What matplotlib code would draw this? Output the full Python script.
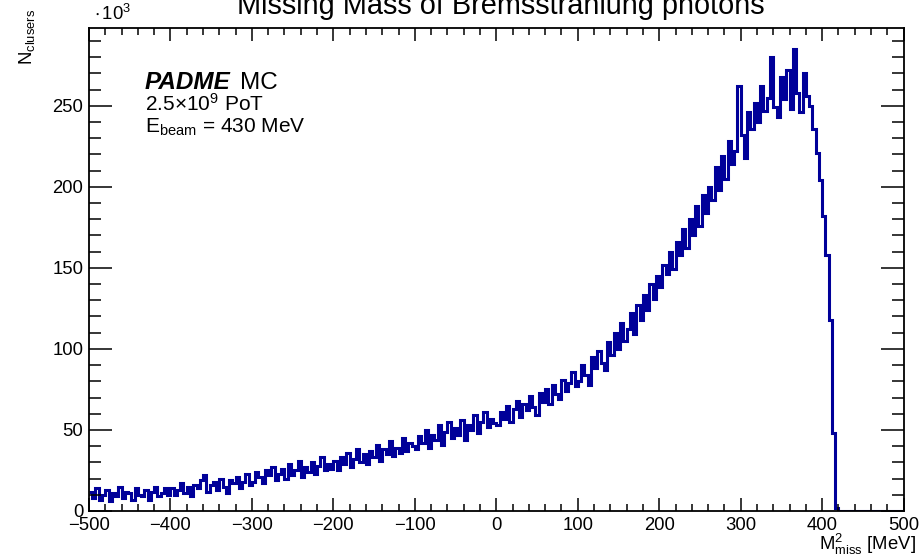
import numpy as np
import matplotlib.pyplot as plt

# missing mass histogram, 4 MeV bins from -500 to 500, counts in units of 10^3
bin_lo = -500
bin_hi = 500

counts_k = [
    # -500 .. -404
    12, 8, 14, 7, 10, 13, 6, 11, 9, 15, 8, 12, 11, 7, 14, 10, 9, 13, 7, 12,
    15, 9, 11, 14, 10,
    # -400 .. -304
    14, 10, 13, 17, 11, 15, 9, 16, 14, 19, 22, 12, 16, 18, 13, 20, 15, 11, 19, 17,
    21, 14, 18, 23, 16,
    # -300 .. -204
    18, 24, 21, 17, 25, 22, 27, 19, 23, 26, 20, 29, 22, 25, 31, 21, 27, 24, 30, 23,
    28, 33, 25, 29, 26,
    # -200 .. -104
    31, 25, 33, 29, 36, 27, 32, 38, 30, 35, 29, 37, 33, 41, 31, 38, 35, 43, 34, 39,
    36, 45, 37, 42, 40,
    # -100 .. -4
    38, 46, 42, 50, 39, 47, 44, 53, 41, 49, 55, 45, 51, 47, 56, 44, 53, 50, 59, 48,
    55, 61, 52, 57, 54,
    # 0 .. 96
    53, 61, 57, 65, 55, 63, 68, 58, 66, 62, 71, 64, 59, 73, 67, 75, 66, 78, 72, 69,
    81, 74, 79, 86, 77,
    # 100 .. 196
    80, 90, 84, 78, 95, 88, 99, 91, 87, 104, 96, 110, 100, 116, 105, 112, 122, 109,
    127, 118, 133, 124, 140, 131, 145,
    # 200 .. 296
    138, 152, 146, 160, 149, 166, 158, 174, 162, 180, 170, 188, 176, 195, 184, 200,
    192, 212, 198, 219, 205, 228, 214, 222, 262,
    # 300 .. 396
    232, 218, 246, 236, 252, 240, 262, 247, 255, 280, 249, 243, 268, 254, 272, 248,
    285, 258, 246, 270, 256, 250, 236, 221, 204,
    # 400 .. 496
    182, 158, 118, 48, 2, 0, 0, 0, 0, 0, 0, 0, 0, 0, 0, 0, 0, 0, 0, 0,
    0, 0, 0, 0, 0,
]

title = "Missing Mass of Bremsstrahlung photons"
info_lines = [r"$\mathregular{2.5{\times}10^9}$ PoT",
              r"$\mathregular{E_{beam}}$ = 430 MeV"]

plt.rcParams['font.family'] = ['Liberation Sans', 'DejaVu Sans']
plt.rcParams['mathtext.fontset'] = 'custom'
plt.rcParams['mathtext.rm'] = 'Liberation Sans'
plt.rcParams['mathtext.it'] = 'Liberation Sans:italic'
plt.rcParams['mathtext.bf'] = 'Liberation Sans:bold'

edges = np.linspace(bin_lo, bin_hi, len(counts_k) + 1)

fig = plt.figure(figsize=(9.23, 5.56), dpi=100)
ax = fig.add_axes([0.0964, 0.081, 0.8826, 0.8686])

ax.stairs(counts_k, edges, color='#000099', linewidth=2.2, baseline=None)

ax.set_xlim(bin_lo, bin_hi)
ax.set_ylim(0, 298)
ax.set_xticks(np.arange(-500, 501, 100))
ax.set_xticks(np.arange(-500, 501, 20), minor=True)
ax.set_yticks(np.arange(0, 251, 50))
ax.set_yticks(np.arange(0, 291, 10), minor=True)

for s in ax.spines.values():
    s.set_linewidth(1.3)
ax.tick_params(which='both', direction='in', top=True, right=True,
               labelsize=13.3, width=1.1, pad=4)
ax.tick_params(axis='x', which='major', length=9.5)
ax.tick_params(axis='x', which='minor', length=5)
ax.tick_params(axis='y', which='major', length=16.5)
ax.tick_params(axis='y', which='minor', length=8.5)

fig.text(0.543, 1 - 14 / 556, title, ha='center', va='baseline', fontsize=20.8)
fig.text(94 / 923, 1 - 20 / 556, r"$\mathregular{\cdot\,10^3}$", ha='left',
         va='baseline', fontsize=13.3)
fig.text(27 / 923, 1 - 9 / 556, r"$\mathregular{N_{clusers}}$", rotation=90,
         ha='center', va='top', fontsize=13.3)
fig.text(916 / 923, 1 - 550 / 556, r"$\mathregular{M^2_{miss}}$ [MeV]",
         ha='right', va='baseline', fontsize=13.3)

fig.text(145 / 923, 1 - 89 / 556, "PADME", fontsize=17.5, fontweight='bold',
         fontstyle='italic', va='baseline')
fig.text(240 / 923, 1 - 89 / 556, "MC", fontsize=17.5, va='baseline')
for i, line in enumerate(info_lines):
    fig.text(145 / 923, 1 - (111 + 22 * i) / 556, line, fontsize=15,
             va='baseline')

fig.savefig('out.png', dpi=100)
